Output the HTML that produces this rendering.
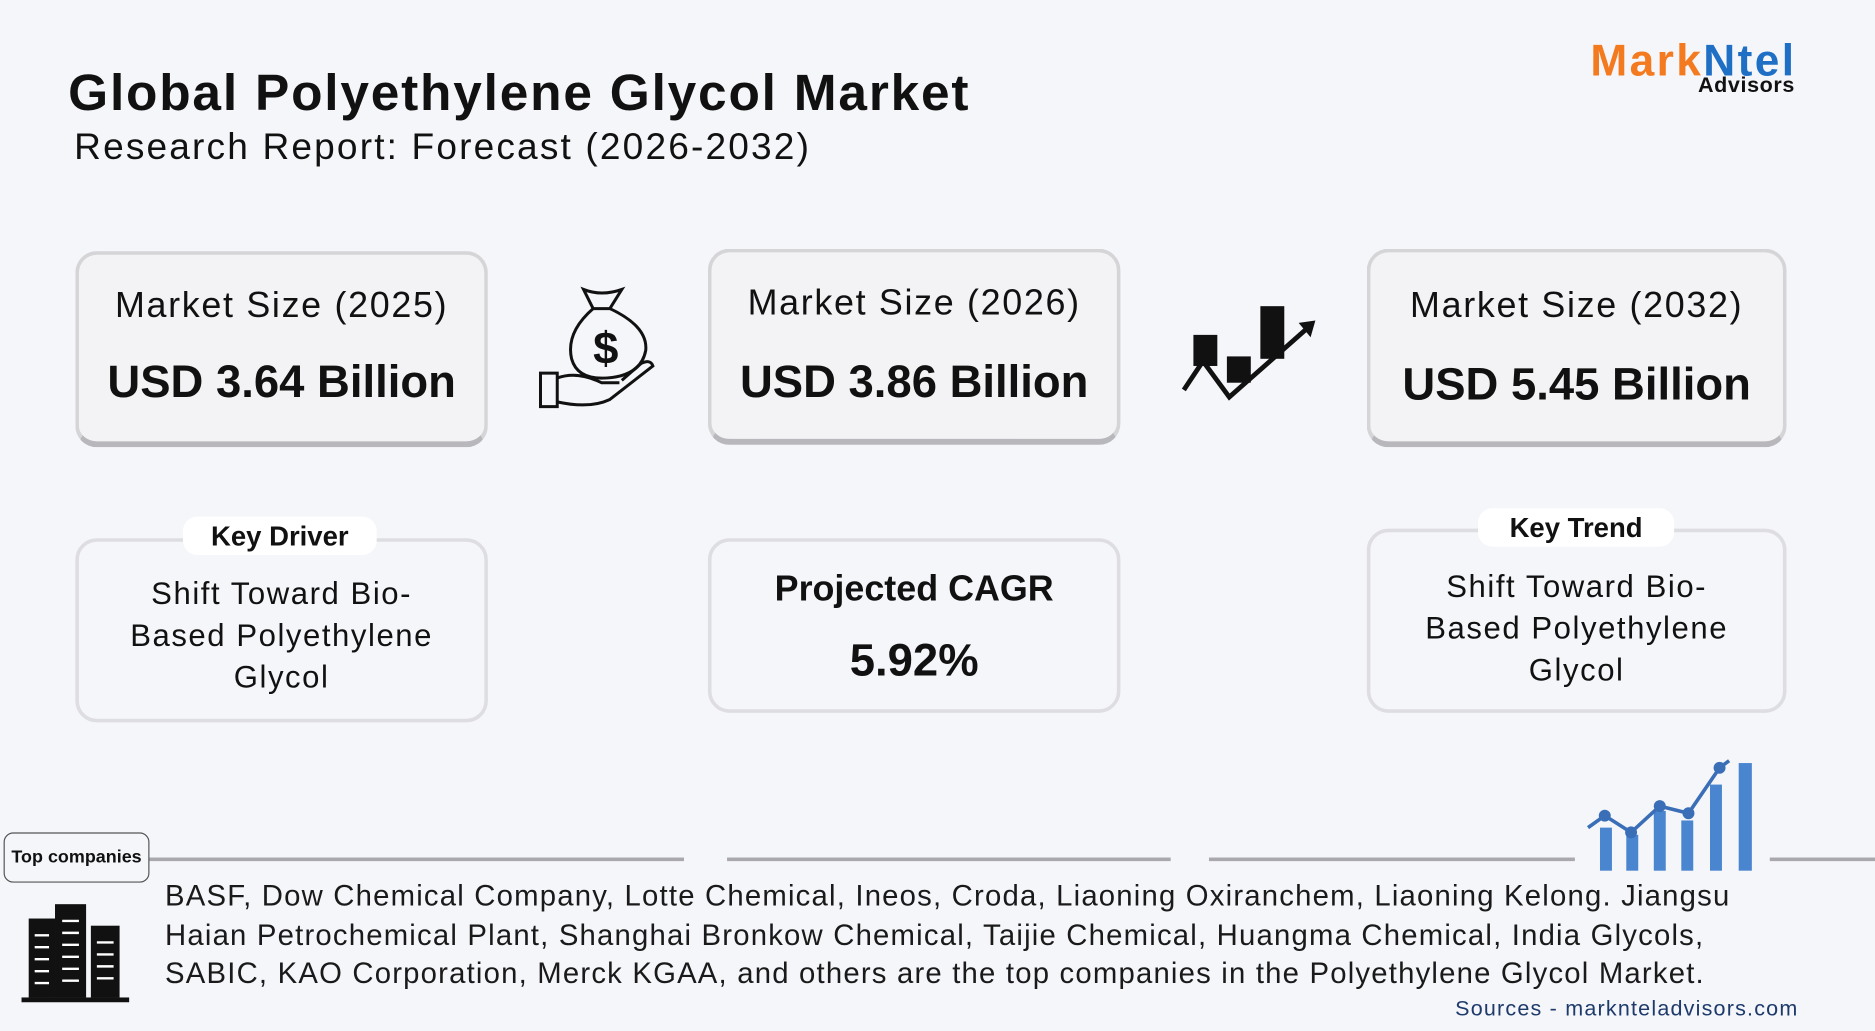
<!DOCTYPE html>
<html><head><meta charset="utf-8">
<style>
html,body{margin:0;padding:0;background:#f5f6fa;}
body{width:1875px;height:1031px;overflow:hidden;}
#w{position:absolute;left:0;top:0;width:1568px;height:862px;transform:scale(1.1958,1.196);transform-origin:0 0;font-family:"Liberation Sans",sans-serif;color:#111;}
.a{position:absolute;}
.box{position:absolute;background:#f3f2f5;border:3px solid #d5d5d8;border-bottom:5px solid #b8b8bc;border-radius:18px;box-sizing:border-box;}
.box2{position:absolute;background:#f5f6fa;border:3px solid #dedee2;border-radius:18px;box-sizing:border-box;}
.c{position:absolute;left:0;right:0;text-align:center;}
.pill{position:absolute;background:#fff;border-radius:12px;text-align:center;font-weight:bold;font-size:23px;line-height:32px;}
.ln{position:absolute;height:3px;background:#a9a9ad;top:717px;}
.ms{font-size:30px;letter-spacing:1.4px}
.kt{font-size:26px;line-height:35px;letter-spacing:1.3px}
</style></head><body><div id="w">
<div class="a" style="left:57px;top:54px;font-size:43px;font-weight:bold;letter-spacing:1.5px">Global Polyethylene Glycol Market</div>
<div class="a" style="left:62px;top:105px;font-size:31px;letter-spacing:1.8px">Research Report: Forecast (2026-2032)</div>
<div class="a" style="left:1330px;top:30px;font-size:37px;font-weight:bold;letter-spacing:2px"><span style="color:#f47a20">Mark</span><span style="color:#1f6fc5">Ntel</span></div>
<div class="a" style="left:1420px;top:61px;font-size:18px;font-weight:bold;letter-spacing:0.5px">Advisors</div>

<div class="box" style="left:63px;top:210px;width:345px;height:164px"><div class="c ms" style="top:26px">Market Size (2025)</div><div class="c" style="top:86px;font-size:38px;font-weight:bold">USD 3.64 Billion</div></div>
<div class="box" style="left:592px;top:208px;width:345px;height:164px"><div class="c ms" style="top:26px">Market Size (2026)</div><div class="c" style="top:88px;font-size:38px;font-weight:bold">USD 3.86 Billion</div></div>
<div class="box" style="left:1143px;top:208px;width:351px;height:166px"><div class="c ms" style="top:28px">Market Size (2032)</div><div class="c" style="top:90px;font-size:38px;font-weight:bold">USD 5.45 Billion</div></div>

<div class="box2" style="left:63px;top:450px;width:345px;height:154px"><div class="c kt" style="top:26px">Shift Toward Bio-<br>Based Polyethylene<br>Glycol</div></div>
<div class="pill" style="left:153px;top:432px;width:162px">Key Driver</div>
<div class="box2" style="left:592px;top:450px;width:345px;height:146px"><div class="c" style="top:23px;font-size:30px;font-weight:bold">Projected CAGR</div><div class="c" style="top:79px;font-size:38px;font-weight:bold">5.92%</div></div>
<div class="box2" style="left:1143px;top:442px;width:351px;height:154px"><div class="c kt" style="top:28px">Shift Toward Bio-<br>Based Polyethylene<br>Glycol</div></div>
<div class="pill" style="left:1236px;top:425px;width:164px">Key Trend</div>

<svg class="a" style="left:448px;top:238px" width="102" height="108" viewBox="0 0 102 108" fill="none" stroke="#111" stroke-width="2.5">
<path d="M40 4 Q55 10 72 4 L62 20 H48 Z"/><path d="M48 20 Q25 40 30 62 Q35 80 60 78 Q88 76 92 55 Q94 35 62 20"/>
<text x="48" y="66" font-size="38" font-family="Liberation Sans" fill="#111" stroke="none" font-weight="bold">$</text>
<path d="M4 74 H18 V102 H4 Z"/><path d="M18 78 Q35 72 55 82 L70 82 M18 98 Q45 104 62 96 L98 68 Q96 62 88 66 L72 80"/>
</svg>
<svg class="a" style="left:986px;top:252px" width="118" height="86" viewBox="0 0 118 86">
<rect x="12" y="28" width="20" height="26" fill="#111"/><rect x="40" y="46" width="20" height="22" fill="#111"/><rect x="68" y="4" width="20" height="44" fill="#111"/>
<path d="M4 74 L20 50 L42 80 L110 20" fill="none" stroke="#111" stroke-width="4"/><path d="M100 18 L114 16 L110 30 Z" fill="#111"/>
</svg>

<div class="ln" style="left:125px;width:447px"></div>
<div class="ln" style="left:608px;width:371px"></div>
<div class="ln" style="left:1011px;width:306px"></div>
<div class="ln" style="left:1480px;width:88px"></div>
<div class="a" style="left:3px;top:696px;width:120px;height:40px;border:1.5px solid #555;border-radius:8px;background:#f5f6fa;font-size:15px;font-weight:bold;line-height:40px;text-align:center">Top companies</div>

<svg class="a" style="left:1326px;top:630px" width="142" height="100">
<g fill="#4a86d0"><rect x="12" y="62" width="10" height="36"/><rect x="34" y="68" width="10" height="30"/><rect x="57" y="48" width="10" height="50"/><rect x="80" y="56" width="10" height="42"/><rect x="104" y="26" width="10" height="72"/><rect x="128" y="8" width="11" height="90"/></g>
<path d="M2 62 L16 52 L38 66 L62 44 L86 50 L112 12 L120 6" fill="none" stroke="#3a6fb8" stroke-width="3"/>
<g fill="#3a6fb8"><circle cx="16" cy="52" r="5"/><circle cx="38" cy="66" r="5"/><circle cx="62" cy="44" r="5"/><circle cx="86" cy="50" r="5"/><circle cx="112" cy="12" r="5"/></g>
</svg>

<svg class="a" style="left:16px;top:752px" width="94" height="88">
<rect x="8" y="16" width="22" height="66" fill="#111"/><rect x="30" y="4" width="26" height="78" fill="#111"/><rect x="60" y="22" width="24" height="60" fill="#111"/>
<g stroke="#fff" stroke-width="2"><path d="M13 30h12M13 40h12M13 50h12M13 60h12M13 70h12M36 18h14M36 28h14M36 38h14M36 48h14M36 58h14M36 68h14M65 36h14M65 46h14M65 56h14M65 66h14"/></g>
<rect x="2" y="82" width="90" height="4" fill="#111"/>
</svg>

<div class="a" style="left:138px;top:734px;font-size:24.5px;line-height:32.5px;color:#1a1a1a;white-space:nowrap;letter-spacing:1px">BASF, Dow Chemical Company, Lotte Chemical, Ineos, Croda, Liaoning Oxiranchem, Liaoning Kelong. Jiangsu<br>Haian Petrochemical Plant, Shanghai Bronkow Chemical, Taijie Chemical, Huangma Chemical, India Glycols,<br>SABIC, KAO Corporation, Merck KGAA, and others are the top companies in the Polyethylene Glycol Market.</div>
<div class="a" style="right:64px;top:833px;font-size:18px;color:#1d3a6b;letter-spacing:1px">Sources - marknteladvisors.com</div>
</div></body></html>
